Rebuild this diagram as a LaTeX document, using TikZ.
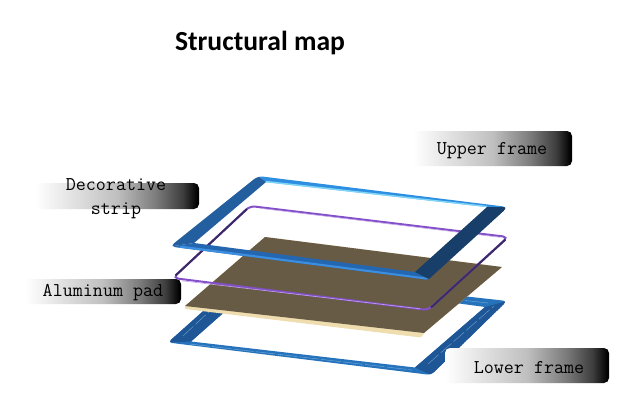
\documentclass[tikz,border=0pt]{standalone}
\usepackage{fontspec}
\newfontfamily\titlefont{Carlito}
\definecolor{ufTop}{HTML}{2E8FE0}
\definecolor{ufHi}{HTML}{7FD4F7}
\definecolor{ufBottom}{HTML}{2467B0}
\definecolor{ufBottomHi}{HTML}{3B8EE0}
\definecolor{ufLeft}{HTML}{235E9E}
\definecolor{ufRight}{HTML}{173F69}
\definecolor{pLight}{HTML}{8450C8}
\definecolor{pHi}{HTML}{BFA2EC}
\definecolor{pDark}{HTML}{3A2A68}
\definecolor{plate}{HTML}{675B46}
\definecolor{cream}{HTML}{EFDDB0}
\definecolor{lfBottom}{HTML}{2673BC}
\definecolor{lfLeft}{HTML}{1F5796}
\definecolor{lfTick}{HTML}{9CCBEF}
\pgfdeclarehorizontalshading{labelfade}{100bp}{color(0bp)=(white); color(25bp)=(white); color(50bp)=(black!25); color(62bp)=(black!52); color(70bp)=(black!76); color(74.5bp)=(black); color(100bp)=(black)}
\tikzset{
  labelbox/.style={draw=none,rounded corners=5pt,shading=labelfade,shading angle=0,minimum width=#1,inner sep=0pt},
  labeltext/.style={font=\ttfamily\fontsize{19.5}{24}\selectfont,text=black,align=center,inner sep=0pt},
  ticks/.style={lfTick,line width=.4pt,opacity=.65}
}
\begin{document}
\begin{tikzpicture}[x=1pt,y=-1pt]
\useasboundingbox (0,0) rectangle (624,418);
\fill[white] (0,0) rectangle (624,418);
\node[font=\titlefont\bfseries\fontsize{27.6}{30}\selectfont,text=black,inner sep=0pt] (title) at (260,42.5) {Structural map};

% lower frame
\begin{scope}
\clip[rounded corners=4pt] (168,342.5) -- (247,272) -- (507,301) -- (431,375) -- cycle;
\fill[lfBottom,even odd rule] (160,260) rectangle (520,385) (191,341.5) -- (264,277) -- (485,307) -- (415,367.5) -- cycle;
\fill[lfLeft] (168,342.5) -- (247,272) -- (264,277) -- (191,341.5) -- cycle;
\fill[lfLeft] (507,301) -- (431,375) -- (415,367.5) -- (485,307) -- cycle;
\end{scope}
\draw[ticks,dash pattern=on 14pt off 3pt] (183,336) -- (212,309);
\draw[ticks,dash pattern=on 20pt off 2pt] (190,344) -- (412,370);
\draw[ticks,dash pattern=on 14pt off 3pt] (428,364) -- (494,306);
\draw[ticks] (465,300.5) -- (488,303);

% aluminum plate
\fill[cream,rounded corners=1pt] (185,306) -- (265,237) -- (502,267) -- (425,332) -- (421,337.5) -- (185,309) -- cycle;
\fill[plate] (185,306) -- (265,237) -- (502,267) -- (424,333) -- cycle;

% decorative strip
\draw[pLight,line width=2pt,rounded corners=5pt] (173,278) -- (250,206) -- (508,237) -- (428,310) -- cycle;
\draw[pHi,line width=.6pt] (182,280.8) -- (420,308.8);
\draw[pHi,line width=.6pt] (260,208.3) -- (500,237.3);
\draw[pDark,line width=2pt] (175.5,275.5) -- (247,209);
\draw[pDark,line width=2pt] (505.5,239.5) -- (431,307.5);

% upper frame
\begin{scope}
\clip[rounded corners=5pt] (170,246.5) -- (258,176) -- (508,207) -- (430,280) -- cycle;
\fill[ufTop] (258,176) -- (508,207) -- (487,207) -- (266,182) -- cycle;
\fill[ufHi] (266,180.8) -- (487,205.8) -- (487,207.2) -- (266,182.4) -- cycle;
\fill[ufBottom] (170,246.5) -- (430,280) -- (415,272) -- (194,243) -- cycle;
\fill[ufBottomHi] (180,245.5) -- (430,278) -- (430,281) -- (180,248.5) -- cycle;
\fill[ufLeft] (170,246.5) -- (258,176) -- (266,182) -- (194,243) -- cycle;
\fill[ufRight] (508,207) -- (429,279) -- (415,272) -- (487,207) -- cycle;
\end{scope}

% labels
\node[labelbox=159pt,minimum height=35pt] (upperbox) at (492.5,148.5) {};
\node[labeltext] (upper) at (492,151) {Upper frame};
\node[labelbox=164pt,minimum height=26pt] (stripbox) at (117,196) {};
\node[labeltext] (strip) at (116,198.5) {Decorative\\strip};
\node[labelbox=156pt,minimum height=25pt] (padbox) at (103,291.5) {};
\node[labeltext] (pad) at (103,293) {Aluminum pad};
\node[labelbox=164pt,minimum height=35pt] (lowerbox) at (527,365.5) {};
\node[labeltext] (lower) at (529,367.5) {Lower frame};
\end{tikzpicture}
\end{document}
